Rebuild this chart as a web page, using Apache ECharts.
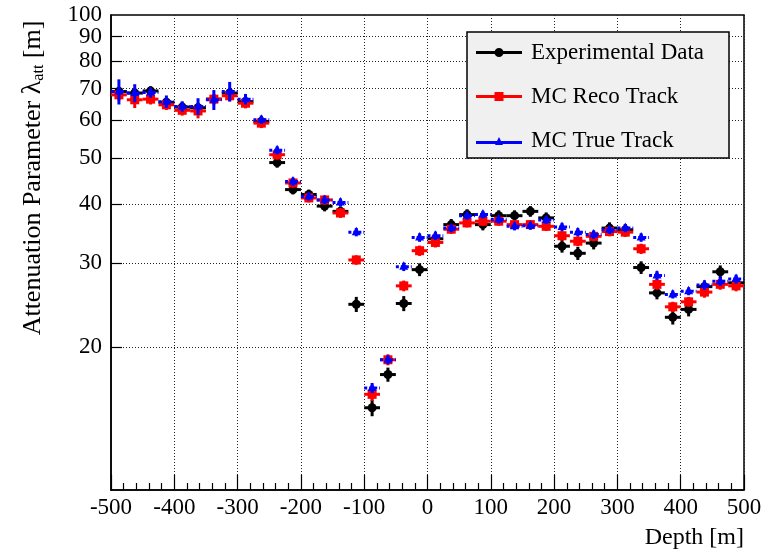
<!DOCTYPE html>
<html>
<head>
<meta charset="utf-8">
<script src="https://cdn.jsdelivr.net/npm/echarts@6/dist/echarts.min.js"></script>
<style>
  html, body { margin: 0; padding: 0; background: #fff; }
  #chart { width: 782px; height: 556px; }
</style>
</head>
<body>
<div id="chart"></div>
<script>
// Bin centres along the borehole depth [m] (25 m bins)
const depth = [
  -487.5, -462.5, -437.5, -412.5, -387.5, -362.5, -337.5, -312.5, -287.5, -262.5,
  -237.5, -212.5, -187.5, -162.5, -137.5, -112.5,  -87.5,  -62.5,  -37.5,  -12.5,
    12.5,   37.5,   62.5,   87.5,  112.5,  137.5,  162.5,  187.5,  212.5,  237.5,
   262.5,  287.5,  312.5,  337.5,  362.5,  387.5,  412.5,  437.5,  462.5,  487.5
];
const binHalfWidth = 12.5;

// Attenuation parameter [m] per bin
const expData = [
  69.0, 68.5, 69.2, 65.5, 64.0, 63.8, 66.5, 68.5, 65.7, 59.7,
  48.9, 42.9, 41.9, 39.6, 38.6, 24.6, 14.9, 17.5, 24.7, 29.1,
  33.8, 36.2, 38.0, 36.2, 37.8, 37.8, 38.6, 37.4, 32.6, 31.5,
  33.1, 35.6, 35.3, 29.4, 26.0, 23.1, 24.0, 26.8, 28.8, 27.3
];
const expErr = [
  1.6, 1.6, 1.6, 1.5, 1.5, 1.5, 1.6, 1.6, 1.5, 1.4,
  1.2, 1.0, 1.0, 1.0, 0.9, 0.9, 0.6, 0.6, 0.9, 0.9,
  1.0, 1.0, 1.0, 1.0, 1.0, 1.0, 1.0, 1.0, 1.0, 1.0,
  1.0, 1.0, 1.0, 0.9, 0.8, 0.8, 0.8, 0.8, 0.9, 0.8
];
const recoData = [
  67.9, 66.3, 66.5, 64.7, 63.0, 62.8, 66.5, 67.6, 65.2, 59.2,
  50.8, 44.3, 41.2, 40.8, 38.3, 30.5, 15.9, 18.8, 26.9, 31.9,
  33.2, 35.4, 36.5, 36.8, 36.8, 36.2, 36.2, 35.9, 34.3, 33.4,
  34.2, 35.0, 34.9, 32.2, 27.1, 24.3, 24.9, 26.1, 27.1, 26.9
];
const recoErr = [
  1.8, 2.6, 1.7, 1.6, 1.6, 2.2, 1.7, 1.7, 1.6, 1.4,
  1.2, 1.0, 0.9, 0.9, 0.9, 0.7, 0.5, 0.5, 0.7, 0.8,
  0.8, 0.8, 0.8, 0.8, 0.8, 0.8, 0.8, 0.8, 0.8, 0.8,
  0.8, 0.8, 0.8, 0.8, 0.7, 0.6, 0.6, 0.7, 0.7, 0.7
];
const trueData = [
  69.0, 68.5, 68.7, 65.7, 64.2, 64.2, 66.3, 69.0, 66.5, 60.2,
  51.9, 44.6, 41.5, 40.8, 40.3, 34.9, 16.4, 18.8, 29.5, 34.0,
  34.3, 35.6, 37.8, 38.0, 37.1, 35.9, 36.0, 37.0, 35.8, 34.9,
  34.5, 35.3, 35.6, 34.0, 28.3, 25.8, 26.2, 27.0, 27.5, 27.8
];
const trueErr = [
  4.2, 3.0, 1.7, 2.0, 1.6, 2.6, 3.2, 3.3, 1.7, 1.2,
  1.0, 0.9, 0.8, 0.8, 0.8, 0.7, 0.4, 0.4, 0.6, 0.7,
  0.7, 0.7, 0.7, 0.7, 0.7, 0.7, 0.7, 0.7, 0.7, 0.7,
  0.7, 0.7, 0.7, 0.7, 0.6, 0.5, 0.5, 0.6, 0.6, 0.6
];

const seriesNames = ['Experimental Data', 'MC Reco Track', 'MC True Track'];
const yTickValues = [20, 30, 40, 50, 60, 70, 80, 90];
const yLabelValues = [20, 30, 40, 50, 60, 70, 80, 90];
const yTopLabel = [100];

const FONT = '"Liberation Serif", "DejaVu Serif", serif';

function rows(values, errors) {
  return depth.map((d, i) => [d, values[i], errors[i]]);
}

// Marker + x/y error bars for one histogram-style series
function errorBarRenderer(marker, color, dashed) {
  return function (params, api) {
    const x = api.value(0), y = api.value(1), e = api.value(2);
    const c = api.coord([x, y]);
    const l = api.coord([x - binHalfWidth, y]);
    const r = api.coord([x + binHalfWidth, y]);
    const t = api.coord([x, y + e]);
    const b = api.coord([x, y - e]);
    const children = [
      { type: 'line', shape: { x1: l[0], y1: l[1], x2: r[0], y2: r[1] },
        style: { stroke: color, lineWidth: 3, lineDash: dashed ? [3, 2] : null } },
      { type: 'line', shape: { x1: t[0], y1: t[1], x2: b[0], y2: b[1] },
        style: { stroke: color, lineWidth: 3 } }
    ];
    if (marker === 'circle') {
      children.push({ type: 'circle', shape: { cx: c[0], cy: c[1], r: 4.5 }, style: { fill: color } });
    } else if (marker === 'square') {
      children.push({ type: 'rect', shape: { x: c[0] - 4.5, y: c[1] - 4.5, width: 9, height: 9 }, style: { fill: color } });
    } else {
      children.push({ type: 'polygon',
        shape: { points: [[c[0], c[1] - 5.5], [c[0] + 4.5, c[1] + 3], [c[0] - 4.5, c[1] + 3]] },
        style: { fill: color } });
    }
    return { type: 'group', children };
  };
}

const yLabelStyle = { fontFamily: FONT, fontSize: 23, lineHeight: 16, color: '#000', margin: 9 };

const chart = echarts.init(document.getElementById('chart'), null, { renderer: 'canvas' });

chart.setOption({
  animation: false,
  backgroundColor: '#fff',
  grid: {
    left: 111, right: 38, top: 15, bottom: 66,
    show: true, borderColor: '#000', borderWidth: 1.5,
    containLabel: false, outerBoundsMode: 'none'
  },
  xAxis: {
    type: 'value', min: -500, max: 500, interval: 100,
    name: 'Depth [m]', nameLocation: 'end', nameGap: 0,
    nameTextStyle: { fontFamily: FONT, fontSize: 24, color: '#000', align: 'right', verticalAlign: 'top', padding: [36, 0, 0, 0] },
    axisLine: { show: true, onZero: false, lineStyle: { color: '#000', width: 1.5 } },
    axisTick: { show: true, inside: true, length: 15, lineStyle: { color: '#000', width: 1.2 } },
    minorTick: { show: true, splitNumber: 5, length: 7, lineStyle: { color: '#000', width: 1.2 } },
    axisLabel: { fontFamily: FONT, fontSize: 23, color: '#000', margin: 6 },
    splitLine: { show: true, lineStyle: { color: '#222', width: 1, type: [1, 2] } }
  },
  yAxis: [
    {
      type: 'log', logBase: 10, min: 10, max: 100, position: 'left',
      axisLine: { show: true, onZero: false, lineStyle: { color: '#000', width: 1.5 } },
      axisTick: { show: true, inside: true, length: 11, customValues: yTickValues, lineStyle: { color: '#000', width: 1.2 } },
      axisLabel: Object.assign({ customValues: yLabelValues, hideOverlap: false }, yLabelStyle),
      splitLine: { show: true, lineStyle: { color: '#222', width: 1, type: [1, 2] } }
    },
    {
      // carries only the top-of-range label
      type: 'log', logBase: 10, min: 10, max: 100, position: 'left', offset: 0,
      axisLine: { show: false, onZero: false },
      axisTick: { show: false },
      axisLabel: Object.assign({ customValues: yTopLabel, showMaxLabel: true }, yLabelStyle),
      splitLine: { show: false }
    }
  ],
  graphic: [
    {
      type: 'text', x: 33, y: 178, rotation: Math.PI / 2, z: 10,
      style: {
        text: 'Attenuation Parameter {l|λ}{s|att} [m]',
        fontFamily: FONT, fontSize: 26, fill: '#000',
        align: 'center', verticalAlign: 'middle',
        rich: {
          l: { fontFamily: FONT, fontSize: 28 },
          s: { fontFamily: FONT, fontSize: 16, verticalAlign: 'bottom', padding: [10, 0, 0, 0] }
        }
      }
    },
    {
      type: 'rect', z: 3,
      shape: { x: 467, y: 32, width: 262, height: 126 },
      style: { fill: '#f0f0f0', stroke: '#000', lineWidth: 1.5 }
    }
  ],
  legend: {
    orient: 'vertical', left: 476, top: 41, padding: 0, itemGap: 21,
    itemWidth: 46, itemHeight: 9, selectedMode: false, z: 5,
    textStyle: { fontFamily: FONT, fontSize: 23, color: '#000', lineHeight: 22, padding: [0, 0, 0, 4] },
    data: [
      { name: seriesNames[0], icon: 'path://M0,3H46V6H0Z M18.5,4.5A4.5,4.5 0 1 1 27.5,4.5A4.5,4.5 0 1 1 18.5,4.5Z' },
      { name: seriesNames[1], icon: 'path://M0,3H46V6H0Z M18.5,0H27.5V9H18.5Z' },
      { name: seriesNames[2], icon: 'path://M0,5H46V8H0Z M19,9L23,1L27,9Z M0,0L0,0Z' }
    ]
  },
  series: [
    {
      name: seriesNames[0], type: 'custom', z: 2,
      itemStyle: { color: '#000' },
      encode: { x: 0, y: 1 },
      renderItem: errorBarRenderer('circle', '#000', false),
      data: rows(expData, expErr)
    },
    {
      name: seriesNames[1], type: 'custom', z: 3,
      itemStyle: { color: '#ff0000' },
      encode: { x: 0, y: 1 },
      renderItem: errorBarRenderer('square', '#ff0000', false),
      data: rows(recoData, recoErr)
    },
    {
      name: seriesNames[2], type: 'custom', z: 4,
      itemStyle: { color: '#0000ff' },
      encode: { x: 0, y: 1 },
      renderItem: errorBarRenderer('triangle', '#0000ff', true),
      data: rows(trueData, trueErr)
    }
  ]
});
</script>
</body>
</html>
